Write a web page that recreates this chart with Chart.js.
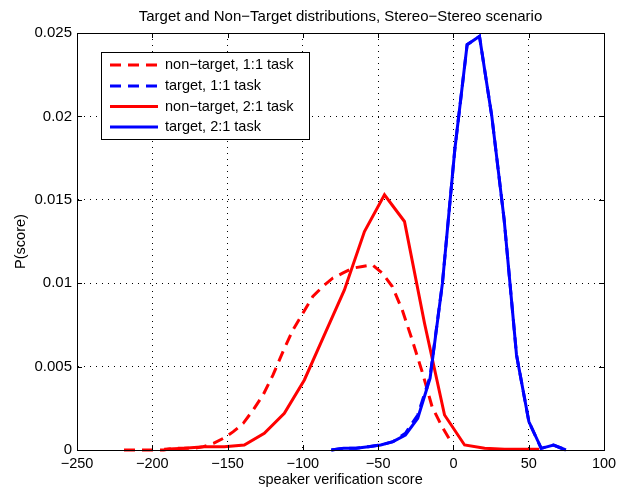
<!DOCTYPE html>
<html>
<head>
<meta charset="utf-8">
<title>Target and Non-Target distributions</title>
<script src="https://cdn.jsdelivr.net/npm/chart.js@4.4.0/dist/chart.umd.min.js"></script>
<style>
  html, body { margin: 0; padding: 0; background: #fff; }
  canvas { display: block; }
</style>
</head>
<body>
<canvas id="chart" width="617" height="489"></canvas>
<script>
// Score-distribution curves (score -> P(score))
const nonTarget11Score = [-218.8, -212.2, -205.6, -199.0, -192.4, -185.8, -179.2, -172.6, -166.0, -159.4,
  -152.8, -146.2, -139.6, -133.0, -126.4, -119.8, -113.2, -106.6, -100.0, -93.4,
  -86.8, -80.2, -73.6, -67.0, -60.4, -53.8, -47.2, -40.6, -34.0, -27.4,
  -20.8, -14.2, -7.6, -1.0];
const nonTarget11Prob = [0, 0, 0, 0, 0, 0.0001, 0.0001, 0.0001, 0.0002, 0.0004,
  0.0007, 0.0011, 0.0016, 0.0024, 0.0033, 0.0045, 0.0059, 0.0072, 0.0082, 0.0092,
  0.0098, 0.0103, 0.0106, 0.0109, 0.0110, 0.0111, 0.0106, 0.0098, 0.0084, 0.0066,
  0.0047, 0.0026, 0.0014, 0.0004];

const target11Score = [-81.1, -72.9, -64.7, -56.5, -48.3, -40.1, -31.9, -23.7, -15.5, -7.3,
  0.9, 9.1, 17.3, 25.5, 33.7, 41.9, 50.1, 58.3, 66.5, 74.7];
const target11Prob = [0, 0.0001, 0.0001, 0.0002, 0.0003, 0.0005, 0.0010, 0.0021, 0.0044, 0.0100,
  0.0180, 0.0243, 0.0248, 0.0200, 0.0138, 0.0057, 0.0017, 0.0001, 0.0003, 0];

const nonTarget21Score = [-192.1, -178.8, -165.5, -152.2, -138.9, -125.6, -112.3, -99.0, -85.7, -72.4,
  -59.1, -45.8, -32.5, -19.2, -5.9, 7.4, 20.7, 34.0, 47.3, 57.0];
const nonTarget21Prob = [0.00005, 0.0001, 0.0002, 0.0002, 0.0003, 0.0010, 0.0022, 0.0042, 0.0069, 0.0096,
  0.0131, 0.0153, 0.0137, 0.0076, 0.0021, 0.0003, 0.0001, 0.00005, 0.00005, 0.00005];

const target21Score = [-81.1, -72.9, -64.7, -56.5, -48.3, -40.1, -31.9, -23.7, -15.5, -7.3,
  0.9, 9.1, 17.3, 25.5, 33.7, 41.9, 50.1, 58.3, 66.5, 74.7];
const target21Prob = [0, 0.0001, 0.0001, 0.0002, 0.0003, 0.0005, 0.0009, 0.0019, 0.0043, 0.0100,
  0.0180, 0.0243, 0.0248, 0.0200, 0.0138, 0.0057, 0.0017, 0.0001, 0.0003, 0];

const seriesNames = ['non\u2212target, 1:1 task', 'target, 1:1 task', 'non\u2212target, 2:1 task', 'target, 2:1 task'];
const xTickLabels = ['\u2212250', '\u2212200', '\u2212150', '\u2212100', '\u221250', '0', '50', '100'];
const yTickLabels = ['0', '0.005', '0.01', '0.015', '0.02', '0.025'];
const chartTitle = 'Target and Non\u2212Target distributions, Stereo\u2212Stereo scenario';
const xAxisTitle = 'speaker verification score';
const yAxisTitle = 'P(score)';

const FONT = '"Liberation Sans", Arial, Helvetica, sans-serif';
const FS = 14.5;
const DASH = [11, 7];

function toPoints(xs, ys) { return xs.map((x, i) => ({ x: x, y: ys[i] })); }

// Title, inward tick marks, axes box and in-axes legend
const decorations = {
  id: 'decorations',
  afterDatasetsDraw(chart) {
    const ctx = chart.ctx;
    const a = chart.chartArea;
    const xs = chart.scales.x, ys = chart.scales.y;
    ctx.save();
    // box
    ctx.strokeStyle = '#000';
    ctx.lineWidth = 1;
    ctx.setLineDash([]);
    ctx.strokeRect(Math.round(a.left) + 0.5, Math.round(a.top) + 0.5,
      Math.round(a.right - a.left), Math.round(a.bottom - a.top));
    // inward tick marks on all four sides
    const TL = 5;
    ctx.beginPath();
    xs.ticks.forEach(t => {
      const px = Math.round(xs.getPixelForValue(t.value)) + 0.5;
      ctx.moveTo(px, a.bottom); ctx.lineTo(px, a.bottom - TL);
      ctx.moveTo(px, a.top); ctx.lineTo(px, a.top + TL);
    });
    ys.ticks.forEach(t => {
      const py = Math.round(ys.getPixelForValue(t.value)) + 0.5;
      ctx.moveTo(a.left, py); ctx.lineTo(a.left + TL, py);
      ctx.moveTo(a.right, py); ctx.lineTo(a.right - TL, py);
    });
    ctx.stroke();

    // title
    ctx.fillStyle = '#000';
    ctx.font = '15px ' + FONT;
    ctx.textAlign = 'center';
    ctx.textBaseline = 'middle';
    ctx.fillText(chartTitle, (a.left + a.right) / 2, 17);

    // legend
    const lx = 101.5, ly = 52.5, lw = 208, lh = 87;
    ctx.fillStyle = '#fff';
    ctx.fillRect(lx, ly, lw, lh);
    ctx.strokeStyle = '#000';
    ctx.lineWidth = 1;
    ctx.strokeRect(lx, ly, lw, lh);
    const rows = [65, 86, 106.5, 127];
    chart.data.datasets.forEach((ds, i) => {
      const y = rows[i];
      ctx.save();
      ctx.strokeStyle = ds.borderColor;
      ctx.lineWidth = ds.borderWidth;
      ctx.setLineDash(ds.borderDash || []);
      ctx.beginPath();
      ctx.moveTo(110, y); ctx.lineTo(158, y);
      ctx.stroke();
      ctx.restore();
      ctx.fillStyle = '#000';
      ctx.textAlign = 'left';
      ctx.textBaseline = 'middle';
      ctx.font = FS + 'px ' + FONT;
      ctx.fillText(ds.label, 165, y);
    });
    ctx.restore();
  }
};

new Chart(document.getElementById('chart'), {
  type: 'line',
  data: {
    datasets: [
      { label: seriesNames[0], data: toPoints(nonTarget11Score, nonTarget11Prob),
        borderColor: '#ff0000', borderWidth: 3, borderDash: DASH, order: 4 },
      { label: seriesNames[1], data: toPoints(target11Score, target11Prob),
        borderColor: '#0000ff', borderWidth: 3, borderDash: DASH, order: 3 },
      { label: seriesNames[2], data: toPoints(nonTarget21Score, nonTarget21Prob),
        borderColor: '#ff0000', borderWidth: 3, order: 2 },
      { label: seriesNames[3], data: toPoints(target21Score, target21Prob),
        borderColor: '#0000ff', borderWidth: 3, order: 1 }
    ]
  },
  options: {
    responsive: false,
    animation: false,
    devicePixelRatio: 1,
    layout: { padding: { top: 33, right: 13, left: 0, bottom: 0 } },
    elements: {
      point: { radius: 0 },
      line: { tension: 0, fill: false, borderCapStyle: 'butt', borderJoinStyle: 'miter' }
    },
    datasets: { line: { clip: false } },
    plugins: { legend: { display: false }, tooltip: { enabled: false }, title: { display: false } },
    scales: {
      x: {
        type: 'linear', min: -250, max: 100,
        afterFit(s) { s.height = 39; s.paddingLeft = 0; s.paddingRight = 0; },
        afterBuildTicks(s) { s.ticks = xTickLabels.map((_, i) => ({ value: -250 + 50 * i })); },
        ticks: {
          color: '#000', padding: 5, maxRotation: 0, autoSkip: false,
          font: { family: FONT, size: FS },
          callback: (v, i) => xTickLabels[i]
        },
        grid: { color: '#000', lineWidth: 1, drawTicks: false },
        border: { display: true, color: '#000', dash: [1, 5] },
        title: { display: true, text: xAxisTitle, color: '#000', font: { family: FONT, size: FS }, padding: { top: 0, bottom: 0 } }
      },
      y: {
        type: 'linear', min: 0, max: 0.025,
        afterFit(s) { s.width = 77; s.paddingTop = 0; s.paddingBottom = 0; },
        afterBuildTicks(s) { s.ticks = yTickLabels.map((_, i) => ({ value: 0.005 * i })); },
        ticks: {
          color: '#000', padding: 5, autoSkip: false,
          font: { family: FONT, size: 15 },
          callback: (v, i) => yTickLabels[i]
        },
        grid: { color: '#000', lineWidth: 1, drawTicks: false },
        border: { display: true, color: '#000', dash: [1, 5] },
        title: { display: true, text: yAxisTitle, color: '#000', font: { family: FONT, size: FS }, padding: { top: 12, bottom: 0 } }
      }
    }
  },
  plugins: [decorations]
});
</script>
</body>
</html>
